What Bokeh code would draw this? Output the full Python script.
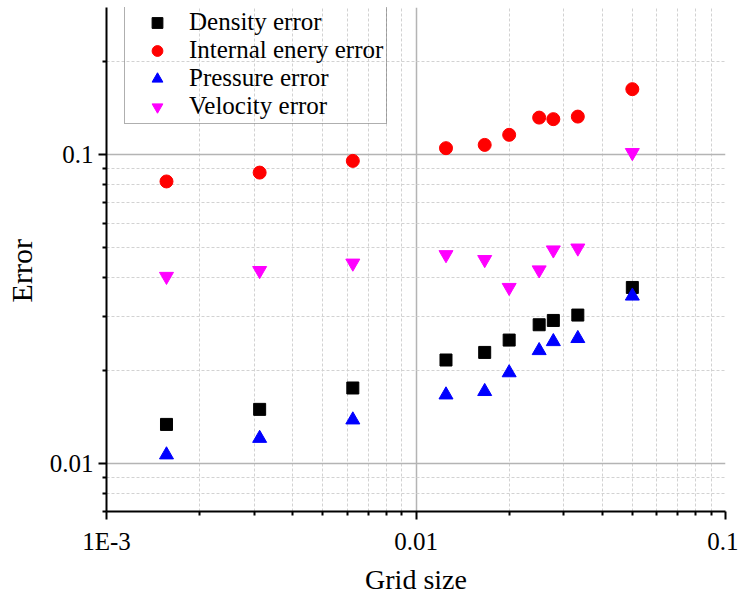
from bokeh.plotting import figure
from bokeh.models import FixedTicker, Legend, LegendItem, Range1d
from bokeh.embed import file_html
from bokeh.resources import INLINE

# grid sizes (h = 1/640 ... 1/20)
grid_size = [0.0015625, 0.003125, 0.00625, 0.0125, 0.01667, 0.02, 0.025, 0.02778, 0.03333, 0.05]

density_err = [0.01340, 0.01499, 0.01758, 0.02166, 0.02292, 0.02513, 0.02817, 0.02909, 0.03028, 0.0372]
energy_err = [0.0820, 0.0876, 0.0956, 0.1051, 0.1077, 0.1161, 0.1320, 0.1305, 0.1330, 0.1632]
pressure_err = [0.01068, 0.01208, 0.01386, 0.01670, 0.01713, 0.01970, 0.02324, 0.02485, 0.02543, 0.0349]
velocity_err = [0.0404, 0.0422, 0.0446, 0.0475, 0.0458, 0.0372, 0.0424, 0.0492, 0.0499, 0.1017]

x_major = [0.001, 0.01, 0.1]
x_labels = {0.001: "1E-3", 0.01: "0.01", 0.1: "0.1"}
y_major = [0.01, 0.1]
y_labels = {0.01: "0.01", 0.1: "0.1"}
mantissas = [2, 3, 4, 5, 6, 7, 8, 9]
x_minor = [m * d for d in (0.001, 0.01) for m in mantissas]
y_minor = [m * d for d in (0.001, 0.01, 0.1) for m in mantissas]

FONT = "Liberation Serif"

p = figure(width=738, height=599, x_axis_type="log", y_axis_type="log",
           x_range=Range1d(0.001, 0.1), y_range=Range1d(0.007, 0.3),
           output_backend="svg", toolbar_location=None,
           min_border_left=106, min_border_right=13,
           min_border_top=7, min_border_bottom=88)
p.outline_line_color = None
p.background_fill_color = "white"
p.border_fill_color = "white"

r_den = p.scatter(grid_size, density_err, marker="square", size=12, color="#000000")
r_ene = p.scatter(grid_size, energy_err, marker="circle", size=13, color="#ff0000")
r_pre = p.scatter(grid_size, pressure_err, marker="triangle", size=14, color="#0000ff")
r_vel = p.scatter(grid_size, velocity_err, marker="inverted_triangle", size=14, color="#ff00ff")

p.xaxis.ticker = FixedTicker(ticks=x_major, minor_ticks=x_minor)
p.yaxis.ticker = FixedTicker(ticks=y_major, minor_ticks=y_minor)
p.xaxis.major_label_overrides = x_labels
p.yaxis.major_label_overrides = y_labels

# grid lines: no major line on the right frame edge, no minor line on the top edge
p.xgrid.ticker = FixedTicker(ticks=x_major[:2], minor_ticks=x_minor)
p.ygrid.ticker = FixedTicker(ticks=y_major, minor_ticks=[t for t in y_minor if t < 0.25])

for ax in (p.xaxis[0], p.yaxis[0]):
    ax.axis_line_width = 2
    ax.axis_line_color = "black"
    ax.major_tick_line_width = 2
    ax.minor_tick_line_width = 2
    ax.major_tick_line_color = "black"
    ax.minor_tick_line_color = "black"
    ax.major_tick_out = 8
    ax.major_tick_in = 0
    ax.minor_tick_out = 4
    ax.minor_tick_in = 0
    ax.major_label_text_font = FONT
    ax.major_label_text_font_size = "25px"
    ax.major_label_text_color = "black"
    ax.axis_label_text_font = FONT
    ax.axis_label_text_font_style = "normal"
    ax.axis_label_text_color = "black"

p.xaxis.axis_label = "Grid size"
p.xaxis.axis_label_text_font_size = "28px"
p.xaxis.axis_label_standoff = 6
p.xaxis.major_label_standoff = 8

# trailing no-break spaces move the title a little below the frame centre
p.yaxis.axis_label = "Error\u00a0\u00a0\u00a0"
p.yaxis.axis_label_text_font_size = "30px"
p.yaxis.axis_label_standoff = 9
p.yaxis.major_label_standoff = 5

for g in (p.xgrid[0], p.ygrid[0]):
    g.grid_line_color = "#b4b4b4"
    g.grid_line_width = 1.5
    g.minor_grid_line_color = "#d2d2d2"
    g.minor_grid_line_width = 1
    g.minor_grid_line_dash = "3 2"

legend = Legend(items=[
    LegendItem(label="Density error", renderers=[r_den]),
    LegendItem(label="Internal enery error", renderers=[r_ene]),
    LegendItem(label="Pressure error", renderers=[r_pre]),
    LegendItem(label="Velocity error", renderers=[r_vel]),
], location=(18, 387))
legend.label_text_font = FONT
legend.label_text_font_size = "25px"
legend.label_text_color = "black"
legend.glyph_width = 58
legend.glyph_height = 27
legend.label_height = 27
legend.label_standoff = 3
legend.padding = 3
legend.spacing = 0
legend.margin = 0
legend.border_line_color = "#606060"
legend.border_line_width = 1
legend.background_fill_alpha = 0
p.add_layout(legend)

open("out.html", "w").write(file_html(p, INLINE))
